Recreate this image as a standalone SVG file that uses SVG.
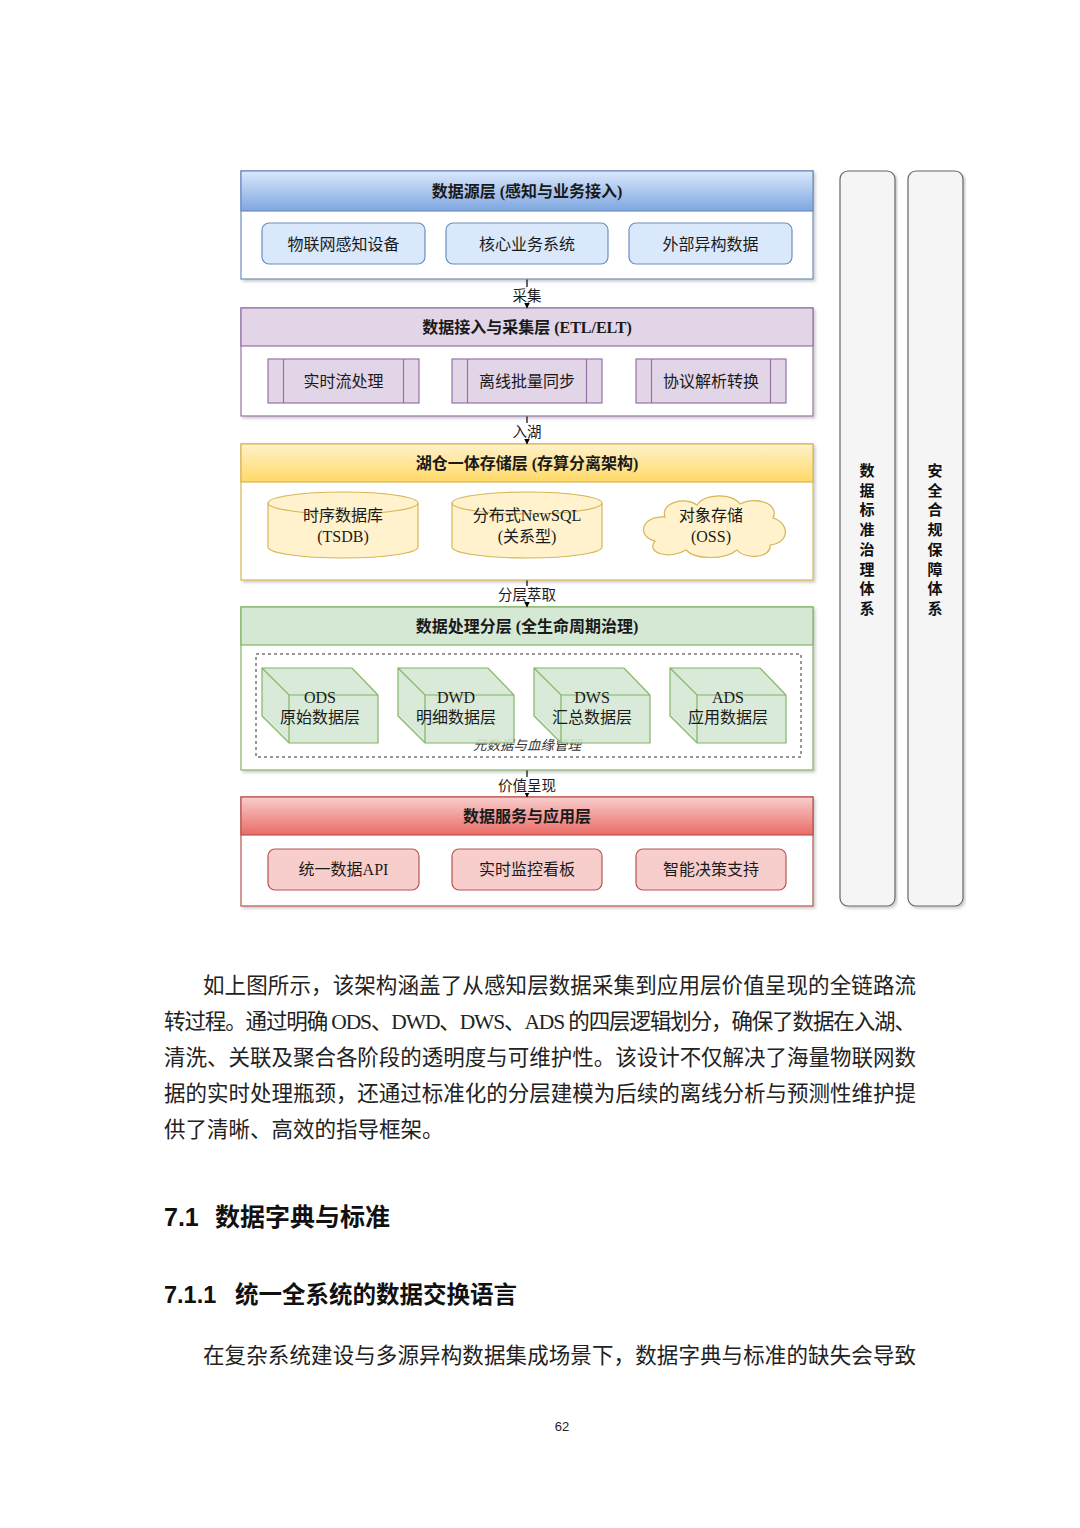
<svg xmlns="http://www.w3.org/2000/svg" width="1080" height="1528" viewBox="0 0 1080 1528">
<style>
.dg{font-family:"Liberation Serif","Noto Sans CJK SC",sans-serif;fill:#1a1a1a}
.ttl{font-size:16px;font-weight:bold;text-anchor:middle}
.sub{font-size:16px;text-anchor:middle}
.lbl{font-size:14.5px;text-anchor:middle}
.side{font-family:"Noto Sans CJK SC",sans-serif;font-size:15px;font-weight:bold;text-anchor:middle;fill:#111}
.body{fill:#fff}
.para{font-family:"Liberation Serif","Noto Sans CJK SC",serif;font-size:21.5px;fill:#222}
.h{font-family:"Liberation Sans","Noto Sans CJK SC",sans-serif;font-weight:bold;fill:#111}
.conn{stroke:#000;stroke-width:1.2;fill:none}
</style>
<defs>
<linearGradient id="gBlue" x1="0" y1="0" x2="0" y2="1"><stop offset="0" stop-color="#dae8fc"/><stop offset="1" stop-color="#7ea6e0"/></linearGradient>
<linearGradient id="gYel" x1="0" y1="0" x2="0" y2="1"><stop offset="0" stop-color="#fff2cc"/><stop offset="1" stop-color="#ffd966"/></linearGradient>
<linearGradient id="gRed" x1="0" y1="0" x2="0" y2="1"><stop offset="0" stop-color="#f8cecc"/><stop offset="1" stop-color="#ea6b66"/></linearGradient>
<filter id="sh" x="-5%" y="-5%" width="110%" height="110%"><feDropShadow dx="2" dy="2" stdDeviation="1.5" flood-color="#000" flood-opacity="0.2"/></filter>
<marker id="arr" markerWidth="6" markerHeight="6" refX="5" refY="3" orient="auto" markerUnits="userSpaceOnUse"><path d="M0,0 L6,3 L0,6 Z" fill="#000"/></marker>
</defs>
<rect width="1080" height="1528" fill="#fff"/>

<!-- Side bars -->
<g id="bar-standard">
<rect x="840" y="171" width="55" height="735" rx="8" fill="#f5f5f5" stroke="#666" stroke-width="1.2" filter="url(#sh)"/>
<text class="side"><tspan x="867" y="476">数</tspan><tspan x="867" y="495.7">据</tspan><tspan x="867" y="515.4">标</tspan><tspan x="867" y="535.1">准</tspan><tspan x="867" y="554.8">治</tspan><tspan x="867" y="574.5">理</tspan><tspan x="867" y="594.2">体</tspan><tspan x="867" y="613.9">系</tspan></text>
</g>
<g id="bar-security">
<rect x="908" y="171" width="55" height="735" rx="8" fill="#f5f5f5" stroke="#666" stroke-width="1.2" filter="url(#sh)"/>
<text class="side"><tspan x="935" y="476">安</tspan><tspan x="935" y="495.7">全</tspan><tspan x="935" y="515.4">合</tspan><tspan x="935" y="535.1">规</tspan><tspan x="935" y="554.8">保</tspan><tspan x="935" y="574.5">障</tspan><tspan x="935" y="594.2">体</tspan><tspan x="935" y="613.9">系</tspan></text>
</g>

<!-- Layer 1 -->
<g id="layer-source" class="dg">
<rect x="241" y="171" width="572" height="108" class="body" stroke="#6c8ebf" stroke-width="1.2" filter="url(#sh)"/>
<rect x="241" y="171" width="572" height="40" fill="url(#gBlue)" stroke="#6c8ebf" stroke-width="1.2"/>
<text class="ttl" x="527" y="197">数据源层 (感知与业务接入)</text>
</g>
<g id="src-iot" class="dg"><rect x="262" y="223" width="163" height="41" rx="7" fill="#dae8fc" stroke="#6c8ebf" stroke-width="1.2"/><text class="sub" x="343.5" y="249.5">物联网感知设备</text></g>
<g id="src-core" class="dg"><rect x="446" y="223" width="162" height="41" rx="7" fill="#dae8fc" stroke="#6c8ebf" stroke-width="1.2"/><text class="sub" x="527" y="249.5">核心业务系统</text></g>
<g id="src-ext" class="dg"><rect x="629" y="223" width="163" height="41" rx="7" fill="#dae8fc" stroke="#6c8ebf" stroke-width="1.2"/><text class="sub" x="710.5" y="249.5">外部异构数据</text></g>

<!-- Layer 2 -->
<g id="layer-ingest" class="dg">
<rect x="241" y="308" width="572" height="108" class="body" stroke="#9673a6" stroke-width="1.2" filter="url(#sh)"/>
<rect x="241" y="308" width="572" height="38" fill="#e1d5e7" stroke="#9673a6" stroke-width="1.2"/>
<text class="ttl" x="527" y="333">数据接入与采集层 (ETL/ELT)</text>
</g>
<g id="ing-stream" class="dg"><rect x="268" y="359" width="151" height="44" fill="#e1d5e7" stroke="#9673a6" stroke-width="1.2"/><path d="M283.5,359V403M403.5,359V403" stroke="#9673a6" stroke-width="1.2"/><text class="sub" x="343.5" y="387">实时流处理</text></g>
<g id="ing-batch" class="dg"><rect x="452" y="359" width="150" height="44" fill="#e1d5e7" stroke="#9673a6" stroke-width="1.2"/><path d="M467.5,359V403M586.5,359V403" stroke="#9673a6" stroke-width="1.2"/><text class="sub" x="527" y="387">离线批量同步</text></g>
<g id="ing-proto" class="dg"><rect x="636" y="359" width="150" height="44" fill="#e1d5e7" stroke="#9673a6" stroke-width="1.2"/><path d="M651.5,359V403M770.5,359V403" stroke="#9673a6" stroke-width="1.2"/><text class="sub" x="711" y="387">协议解析转换</text></g>

<!-- Layer 3 -->
<g id="layer-storage" class="dg">
<rect x="241" y="444" width="572" height="136" class="body" stroke="#d6b656" stroke-width="1.2" filter="url(#sh)"/>
<rect x="241" y="444" width="572" height="38" fill="url(#gYel)" stroke="#d6b656" stroke-width="1.2"/>
<text class="ttl" x="527" y="469">湖仓一体存储层 (存算分离架构)</text>
</g>
<g id="st-tsdb" class="dg"><path d="M268,503 A75,11 0 0 1 418,503 L418,547 A75,11 0 0 1 268,547 Z" fill="#fff2cc" stroke="#d6b656" stroke-width="1.2"/><path d="M268,503 A75,11 0 0 0 418,503" fill="none" stroke="#d6b656" stroke-width="1.2"/><text class="sub" x="343" y="521">时序数据库</text><text class="sub" x="343" y="542">(TSDB)</text></g>
<g id="st-newsql" class="dg"><path d="M452,503 A75,11 0 0 1 602,503 L602,547 A75,11 0 0 1 452,547 Z" fill="#fff2cc" stroke="#d6b656" stroke-width="1.2"/><path d="M452,503 A75,11 0 0 0 602,503" fill="none" stroke="#d6b656" stroke-width="1.2"/><text class="sub" x="527" y="521">分布式NewSQL</text><text class="sub" x="527" y="542">(关系型)</text></g>
<g id="st-oss" class="dg"><path d="M665,517 C660,503 685,496 697,505 C705,493 733,493 740,504 C755,496 780,503 773,518 C790,523 790,543 770,545 C772,558 745,560 737,550 C725,560 695,560 686,550 C670,560 645,553 655,541 C637,537 640,516 665,517 Z" fill="#fff2cc" stroke="#d6b656" stroke-width="1.2"/><text class="sub" x="711" y="521">对象存储</text><text class="sub" x="711" y="542">(OSS)</text></g>

<!-- Layer 4 -->
<g id="layer-process" class="dg">
<rect x="241" y="607" width="572" height="163" class="body" stroke="#82b366" stroke-width="1.2" filter="url(#sh)"/>
<rect x="241" y="607" width="572" height="38" fill="#d5e8d4" stroke="#82b366" stroke-width="1.2"/>
<text class="ttl" x="527" y="632">数据处理分层 (全生命周期治理)</text>
</g>
<g id="meta-lineage" class="dg">
<rect x="256" y="654" width="545" height="103" fill="none" stroke="#333" stroke-width="1" stroke-dasharray="3 3"/>
<text x="527" y="750" text-anchor="middle" font-size="13.5" font-style="italic" fill="#333">元数据与血缘管理</text>
</g>
<g id="ods" class="dg"><path d="M262,668 H352 L378,695 V743 H289 L262,716 Z" fill="#d5e8d4" fill-opacity="0.9" stroke="#82b366" stroke-width="1.2"/><path d="M262,668 L289,695 H378 M289,695 V743" fill="none" stroke="#82b366" stroke-width="1.2"/><text class="sub" x="320" y="703">ODS</text><text class="sub" x="320" y="723">原始数据层</text></g>
<g id="dwd" class="dg"><path d="M398,668 H488 L514,695 V743 H425 L398,716 Z" fill="#d5e8d4" fill-opacity="0.9" stroke="#82b366" stroke-width="1.2"/><path d="M398,668 L425,695 H514 M425,695 V743" fill="none" stroke="#82b366" stroke-width="1.2"/><text class="sub" x="456" y="703">DWD</text><text class="sub" x="456" y="723">明细数据层</text></g>
<g id="dws" class="dg"><path d="M534,668 H624 L650,695 V743 H561 L534,716 Z" fill="#d5e8d4" fill-opacity="0.9" stroke="#82b366" stroke-width="1.2"/><path d="M534,668 L561,695 H650 M561,695 V743" fill="none" stroke="#82b366" stroke-width="1.2"/><text class="sub" x="592" y="703">DWS</text><text class="sub" x="592" y="723">汇总数据层</text></g>
<g id="ads" class="dg"><path d="M670,668 H760 L786,695 V743 H697 L670,716 Z" fill="#d5e8d4" fill-opacity="0.9" stroke="#82b366" stroke-width="1.2"/><path d="M670,668 L697,695 H786 M697,695 V743" fill="none" stroke="#82b366" stroke-width="1.2"/><text class="sub" x="728" y="703">ADS</text><text class="sub" x="728" y="723">应用数据层</text></g>

<!-- Layer 5 -->
<g id="layer-service" class="dg">
<rect x="241" y="797" width="572" height="109" class="body" stroke="#b85450" stroke-width="1.2" filter="url(#sh)"/>
<rect x="241" y="797" width="572" height="38" fill="url(#gRed)" stroke="#b85450" stroke-width="1.2"/>
<text class="ttl" x="527" y="822">数据服务与应用层</text>
</g>
<g id="svc-api" class="dg"><rect x="268" y="849" width="151" height="41" rx="7" fill="#f8cecc" stroke="#b85450" stroke-width="1.2"/><text class="sub" x="343.5" y="875">统一数据API</text></g>
<g id="svc-monitor" class="dg"><rect x="452" y="849" width="150" height="41" rx="7" fill="#f8cecc" stroke="#b85450" stroke-width="1.2"/><text class="sub" x="527" y="875">实时监控看板</text></g>
<g id="svc-decision" class="dg"><rect x="636" y="849" width="150" height="41" rx="7" fill="#f8cecc" stroke="#b85450" stroke-width="1.2"/><text class="sub" x="711" y="875">智能决策支持</text></g>

<!-- Connectors -->
<g id="connectors" class="dg">
<line class="conn" x1="527" y1="279.5" x2="527" y2="307.5" marker-end="url(#arr)"/>
<rect x="511" y="287" width="32" height="16" fill="#fff"/>
<text class="lbl" x="527" y="300.5">采集</text>
<line class="conn" x1="527" y1="416.5" x2="527" y2="443.5" marker-end="url(#arr)"/>
<rect x="511" y="423" width="32" height="16" fill="#fff"/>
<text class="lbl" x="527" y="436.5">入湖</text>
<line class="conn" x1="527" y1="580.5" x2="527" y2="606.5" marker-end="url(#arr)"/>
<rect x="497" y="586" width="60" height="16" fill="#fff"/>
<text class="lbl" x="527" y="599.5">分层萃取</text>
<line class="conn" x1="527" y1="770.5" x2="527" y2="796.5" marker-end="url(#arr)"/>
<rect x="497" y="777" width="60" height="16" fill="#fff"/>
<text class="lbl" x="527" y="790.5">价值呈现</text>
</g>

<!-- Body text -->
<g id="page-text">
<text class="para" x="203" y="993" textLength="713" lengthAdjust="spacing">如上图所示，该架构涵盖了从感知层数据采集到应用层价值呈现的全链路流</text>
<text class="para" x="164" y="1029" textLength="752" lengthAdjust="spacing">转过程。通过明确 ODS、DWD、DWS、ADS 的四层逻辑划分，确保了数据在入湖、</text>
<text class="para" x="164" y="1065" textLength="752" lengthAdjust="spacing">清洗、关联及聚合各阶段的透明度与可维护性。该设计不仅解决了海量物联网数</text>
<text class="para" x="164" y="1101" textLength="752" lengthAdjust="spacing">据的实时处理瓶颈，还通过标准化的分层建模为后续的离线分析与预测性维护提</text>
<text class="para" x="164" y="1137">供了清晰、高效的指导框架。</text>
<text class="h" font-size="25" y="1226"><tspan x="164">7.1</tspan><tspan x="215">数据字典与标准</tspan></text>
<text class="h" font-size="23.5" y="1303"><tspan x="164">7.1.1</tspan><tspan x="235">统一全系统的数据交换语言</tspan></text>
<text class="para" x="203" y="1363" textLength="713" lengthAdjust="spacing">在复杂系统建设与多源异构数据集成场景下，数据字典与标准的缺失会导致</text>
<text x="562" y="1431" text-anchor="middle" font-family="Liberation Sans, sans-serif" font-size="13" fill="#222">62</text>
</g>
</svg>
